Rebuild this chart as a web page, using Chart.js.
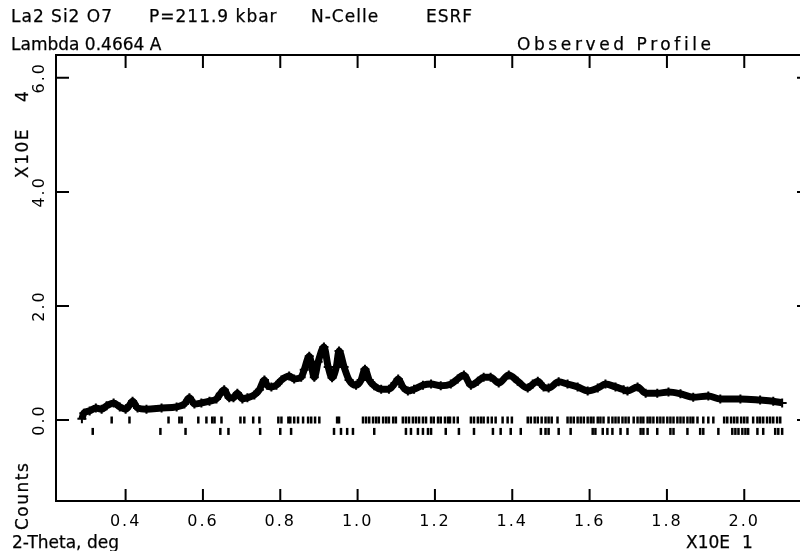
<!DOCTYPE html>
<html>
<head>
<meta charset="utf-8">
<title>La2 Si2 O7 - Observed Profile</title>
<script src="https://cdn.jsdelivr.net/npm/chart.js@4.4.1/dist/chart.umd.min.js"></script>
<style>
  html, body { margin: 0; padding: 0; background: #fff; overflow: hidden; }
  #wrap { width: 800px; height: 551px; overflow: hidden; }
  canvas { display: block; }
</style>
</head>
<body>
<div id="wrap"><canvas id="chart" width="830" height="551"></canvas></div>
<script>
// observed profile : 2-theta (x10 deg) / counts (x10^4)
const twoTheta = [
  0.287, 0.292, 0.307, 0.323, 0.338, 0.351, 0.369, 0.385, 0.400, 0.410,
  0.418, 0.431, 0.454, 0.493, 0.532, 0.552, 0.565, 0.578, 0.596, 0.617,
  0.635, 0.645, 0.655, 0.668, 0.679, 0.689, 0.702, 0.715, 0.733, 0.746,
  0.759, 0.766, 0.777, 0.790, 0.803, 0.823, 0.836, 0.854, 0.862, 0.875,
  0.888, 0.898, 0.913, 0.924, 0.934, 0.945, 0.952, 0.965, 0.978, 0.996,
  1.009, 1.019, 1.030, 1.043, 1.061, 1.081, 1.097, 1.105, 1.117, 1.130,
  1.146, 1.169, 1.190, 1.215, 1.241, 1.259, 1.275, 1.293, 1.311, 1.326,
  1.344, 1.365, 1.391, 1.414, 1.440, 1.453, 1.466, 1.481, 1.494, 1.520,
  1.543, 1.569, 1.595, 1.621, 1.641, 1.667, 1.688, 1.698, 1.724, 1.745,
  1.775, 1.804, 1.835, 1.868, 1.907, 1.938, 1.990, 2.041, 2.075, 2.098
];
const counts = [
  0.02, 0.12, 0.16, 0.21, 0.19, 0.25, 0.30, 0.23, 0.19, 0.26,
  0.33, 0.21, 0.19, 0.21, 0.23, 0.28, 0.39, 0.28, 0.30, 0.33,
  0.37, 0.46, 0.53, 0.39, 0.39, 0.47, 0.37, 0.39, 0.44, 0.53,
  0.70, 0.61, 0.58, 0.61, 0.70, 0.77, 0.72, 0.75, 0.88, 1.12,
  0.75, 1.02, 1.28, 0.93, 0.74, 0.93, 1.21, 0.93, 0.70, 0.61,
  0.70, 0.89, 0.70, 0.60, 0.54, 0.54, 0.65, 0.72, 0.58, 0.51,
  0.54, 0.61, 0.63, 0.60, 0.63, 0.72, 0.79, 0.61, 0.68, 0.75,
  0.75, 0.65, 0.79, 0.68, 0.56, 0.63, 0.68, 0.58, 0.56, 0.67,
  0.63, 0.58, 0.51, 0.56, 0.63, 0.58, 0.53, 0.51, 0.58, 0.47,
  0.47, 0.49, 0.46, 0.40, 0.42, 0.37, 0.37, 0.35, 0.33, 0.30
];

// reflection positions (two rows of markers)
const reflections1 = [
  0.364, 0.410, 0.511, 0.539, 0.545, 0.588, 0.609, 0.624, 0.630, 0.648,
  0.697, 0.707, 0.730, 0.746, 0.795, 0.803, 0.821, 0.826, 0.836, 0.846,
  0.859, 0.872, 0.880, 0.890, 0.901, 0.947, 0.952, 1.014, 1.022, 1.030,
  1.040, 1.048, 1.055, 1.066, 1.074, 1.081, 1.092, 1.099, 1.117, 1.125,
  1.133, 1.143, 1.151, 1.159, 1.169, 1.177, 1.190, 1.197, 1.208, 1.215,
  1.226, 1.234, 1.239, 1.249, 1.259, 1.293, 1.301, 1.311, 1.319, 1.326,
  1.337, 1.347, 1.357, 1.375, 1.388, 1.399, 1.440, 1.448, 1.458, 1.466,
  1.476, 1.486, 1.494, 1.502, 1.517, 1.543, 1.551, 1.559, 1.569, 1.577,
  1.585, 1.595, 1.603, 1.610, 1.621, 1.628, 1.636, 1.649, 1.659, 1.667,
  1.675, 1.685, 1.693, 1.701, 1.714, 1.724, 1.732, 1.739, 1.750, 1.757,
  1.765, 1.775, 1.783, 1.791, 1.801, 1.809, 1.817, 1.827, 1.835, 1.843,
  1.853, 1.861, 1.868, 1.879, 1.894, 1.907, 1.920, 1.948, 1.956, 1.966,
  1.974, 1.982, 1.992, 2.000, 2.008, 2.023, 2.034, 2.041, 2.049, 2.059,
  2.067, 2.075, 2.085, 2.093
];
const reflections2 = [
  0.315, 0.490, 0.555, 0.645, 0.666, 0.748, 0.800, 0.828, 0.939, 0.957,
  0.973, 0.988, 1.043, 1.125, 1.138, 1.156, 1.169, 1.182, 1.190, 1.228,
  1.262, 1.301, 1.350, 1.370, 1.396, 1.422, 1.474, 1.486, 1.494, 1.520,
  1.551, 1.608, 1.615, 1.634, 1.646, 1.659, 1.680, 1.698, 1.732, 1.739,
  1.750, 1.775, 1.809, 1.817, 1.853, 1.886, 1.894, 1.933, 1.969, 1.977,
  1.985, 1.995, 2.003, 2.010, 2.034, 2.049, 2.080, 2.088, 2.098
];
const row1Level = 0.0;
const row2Level = -0.20;

const xTicks = [0.4, 0.6, 0.8, 1.0, 1.2, 1.4, 1.6, 1.8, 2.0];
const yTicks = [0, 2, 4, 6];

const headerLine1 = ["La2 Si2 O7", "P=211.9 kbar", "N-Celle", "ESRF"];
const headerLine2 = "Lambda 0.4664 A";
const plotTitle = "Observed Profile";

const FONT = "17px 'DejaVu Sans'";

// texte légèrement épaissi, avec espacement des lettres
function spacedText(ctx, text, x, y, spacing) {
  ctx.letterSpacing = spacing + "px";
  ctx.fillText(text, x, y);
  ctx.strokeText(text, x, y);
}

// cadre + graduations internes + textes
const framePlugin = {
  id: "frame",
  beforeDraw(chart) {
    chart.ctx.letterSpacing = "2px";
  },
  afterDraw(chart) {
    const { ctx, chartArea: a, scales: { x, y } } = chart;
    ctx.save();
    ctx.strokeStyle = "#000";
    ctx.lineWidth = 2;
    ctx.strokeRect(a.left, a.top, a.right - a.left, a.bottom - a.top);
    ctx.beginPath();
    xTicks.forEach(v => {
      const px = x.getPixelForValue(v);
      ctx.moveTo(px, a.top); ctx.lineTo(px, a.top + 13);
      ctx.moveTo(px, a.bottom); ctx.lineTo(px, a.bottom - 12);
    });
    yTicks.forEach(v => {
      const py = y.getPixelForValue(v);
      ctx.moveTo(a.left, py); ctx.lineTo(a.left + 13, py);
      ctx.moveTo(a.right, py); ctx.lineTo(a.right - 13, py);
    });
    ctx.stroke();

    ctx.fillStyle = "#000";
    ctx.lineWidth = 0.25;
    ctx.font = FONT;
    ctx.textBaseline = "alphabetic";
    ctx.textAlign = "left";
    const starts = [11, 149, 311, 426];
    headerLine1.forEach((t, i) => spacedText(ctx, t, starts[i], 22, 1));
    spacedText(ctx, headerLine2, 11, 50, 0);
    spacedText(ctx, plotTitle, 517, 50, 3.6);
    spacedText(ctx, "2-Theta, deg", 12, 548, 0);
    spacedText(ctx, "X10E", 686, 548, 0);
    spacedText(ctx, "1", 742, 548, 0);

    // titres verticaux
    ctx.save();
    ctx.translate(28, 530);
    ctx.rotate(-Math.PI / 2);
    spacedText(ctx, "Counts", 0, 0, 1.5);
    ctx.restore();
    ctx.save();
    ctx.translate(28, 178);
    ctx.rotate(-Math.PI / 2);
    spacedText(ctx, "X10E", 0, 0, 1.5);
    spacedText(ctx, "4", 76, 0, 0);
    ctx.restore();

    ctx.restore();
  }
};

const profile = twoTheta.map((t, i) => ({ x: t, y: counts[i] }));
const marks1 = reflections1.map(t => ({ x: t, y: row1Level }));
const marks2 = reflections2.map(t => ({ x: t, y: row2Level }));

const ctx = document.getElementById("chart").getContext("2d");
const chart = new Chart(ctx, {
  type: "line",
  data: {
    datasets: [
      {
        label: "Observed",
        data: profile,
        borderColor: "#000",
        backgroundColor: "#000",
        borderWidth: 7,
        cubicInterpolationMode: "monotone",
        pointStyle: "cross",
        pointRadius: 4.5,
        pointBorderWidth: 2,
        pointBorderColor: "#000"
      },
      {
        label: "Phase 1",
        data: marks1,
        showLine: false,
        pointStyle: "line",
        rotation: 90,
        pointRadius: 3.5,
        pointBorderWidth: 2.5,
        pointBorderColor: "#000"
      },
      {
        label: "Phase 2",
        data: marks2,
        showLine: false,
        pointStyle: "line",
        rotation: 90,
        pointRadius: 3.5,
        pointBorderWidth: 2.5,
        pointBorderColor: "#000"
      }
    ]
  },
  options: {
    responsive: false,
    devicePixelRatio: 1,
    animation: false,
    layout: { padding: { top: 55, right: 20, left: 0, bottom: 0 } },
    plugins: {
      legend: { display: false },
      tooltip: { enabled: false }
    },
    scales: {
      x: {
        type: "linear",
        min: 0.22,
        max: 2.17,
        afterFit: s => { s.height = 50; },
        afterBuildTicks: s => { s.ticks = xTicks.map(v => ({ value: v })); },
        grid: { display: false, drawTicks: false },
        border: { display: false },
        ticks: {
          padding: 11,
          color: "#000",
          font: { family: "DejaVu Sans", size: 16 },
          maxRotation: 0,
          callback: v => v.toFixed(1)
        }
      },
      y: {
        type: "linear",
        min: -1.42,
        max: 6.40,
        afterFit: s => { s.width = 56; },
        afterBuildTicks: s => { s.ticks = yTicks.map(v => ({ value: v })); },
        grid: { display: false, drawTicks: false },
        border: { display: false },
        ticks: {
          padding: 3,
          color: "#000",
          font: { family: "DejaVu Sans", size: 16 },
          minRotation: 90,
          maxRotation: 90,
          crossAlign: "center",
          callback: v => v.toFixed(1)
        }
      }
    }
  },
  plugins: [framePlugin]
});
</script>
</body>
</html>
